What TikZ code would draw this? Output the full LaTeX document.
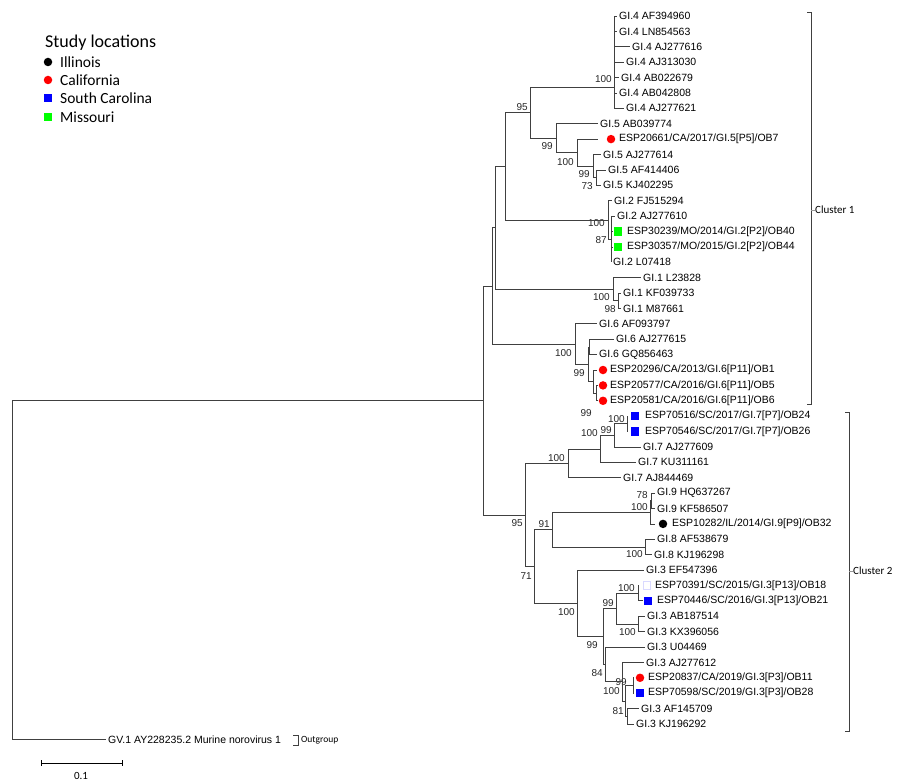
\documentclass[tikz,border=0pt]{standalone}
\usepackage{fontspec}
\setmainfont{Liberation Sans}
\newfontfamily\calfont{Carlito}
\tikzset{
  treeline/.style={line width=0.75pt, black!75},
  taxon/.style={anchor=west, inner xsep=2pt, inner ysep=0pt, font=\fontsize{10.5}{12}\selectfont},
  bootval/.style={anchor=east, inner sep=0pt, font=\fontsize{10}{12}\selectfont, black!85},
  dotmark/.style={circle, fill=#1, minimum size=8.5pt, inner sep=0pt},
  sqmark/.style={rectangle, fill=#1, minimum size=8.5pt, inner sep=0pt},
  legtext/.style={anchor=west, inner sep=0pt, font=\calfont\fontsize{15.5}{17}\selectfont},
  cltext/.style={anchor=west, inner sep=0pt, font=\calfont\fontsize{11}{12}\selectfont},
}
\begin{document}
\begin{tikzpicture}[x=1pt, y=-1pt]
\useasboundingbox (0,0) rectangle (900,784);

%Legend
\node[anchor=west, inner sep=0pt, font=\calfont\fontsize{18}{20}\selectfont] (legtitle) at (45,43) {Study locations};
\node[dotmark=black] (kIL) at (48,62) {};
\node[legtext] (tIL) at (60,62) {Illinois};
\node[dotmark=red] (kCA) at (48,80) {};
\node[legtext] (tCA) at (60,80) {California};
\node[sqmark=blue] (kSC) at (48,98) {};
\node[legtext] (tSC) at (60,98) {South Carolina};
\node[sqmark=green] (kMO) at (48,117) {};
\node[legtext] (tMO) at (60,117) {Missouri};

%Internal nodes
\coordinate (R)    at (12,569.9);
\coordinate (nD)   at (483,400.4);
\coordinate (nC)   at (492,285.9);
\coordinate (nB)   at (495,227.7);
\coordinate (nA)   at (505,166.3);
\coordinate (n95)  at (530,112.6);
\coordinate (n4)   at (614,87);
\coordinate (n5)   at (556,138.1);
\coordinate (n5a)  at (577,152.6);
\coordinate (n5b)  at (593,166);
\coordinate (n5c)  at (596,177.6);
\coordinate (g2)   at (608,220);
\coordinate (g2a)  at (611,239.2);
\coordinate (g1)   at (613,289.2);
\coordinate (g1a)  at (618,300.7);
\coordinate (g6)   at (575,344);
\coordinate (g6a)  at (588,364.3);
\coordinate (g6x)  at (589,346.9);
\coordinate (g6c)  at (593,381.6);
\coordinate (g6d)  at (596,393.1);
\coordinate (nC2)  at (525,514.9);
\coordinate (g7)   at (568,463.3);
\coordinate (g7a)  at (600,448.9);
\coordinate (g7b)  at (614,435.4);
\coordinate (g7c)  at (627,423.8);
\coordinate (n71)  at (534,566.5);
\coordinate (n91)  at (552,529.7);
\coordinate (g9)   at (650,512.4);
\coordinate (g9a)  at (651,500.8);
\coordinate (g8)   at (645,547);
\coordinate (n100c) at (577,603.3);
\coordinate (n99g) at (603,636.5);
\coordinate (n99f) at (616,608.5);
\coordinate (n100d) at (638,593.1);
\coordinate (g3ab) at (638,623.9);
\coordinate (n84)  at (605,664.4);
\coordinate (n100e) at (622,681.7);
\coordinate (nX)   at (625,700.9);
\coordinate (n99i) at (633,685.5);
\coordinate (n81)  at (627,716.3);

%Taxa, cluster 1
\node[taxon] (l0)  at (617,16)    {GI.4 AF394960};
\node[taxon] (l1)  at (617,31.4)  {GI.4 LN854563};
\node[taxon] (l2)  at (630,46.8)  {GI.4 AJ277616};
\node[taxon] (l3)  at (624,62.2)  {GI.4 AJ313030};
\node[taxon] (l4)  at (619,77.6)  {GI.4 AB022679};
\node[taxon] (l5)  at (617,93)    {GI.4 AB042808};
\node[taxon] (l6)  at (624,108.3) {GI.4 AJ277621};
\node[taxon] (l7)  at (598,123.7) {GI.5 AB039774};
\coordinate (t8) at (598,139.1);
\node[dotmark=red] (m8) at (611,139.1) {};
\node[taxon] (l8)  at (617,139.1) {ESP20661/CA/2017/GI.5[P5]/OB7};
\node[taxon] (l9)  at (601,154.5) {GI.5 AJ277614};
\node[taxon] (l10) at (606,169.9) {GI.5 AF414406};
\node[taxon] (l11) at (601,185.3) {GI.5 KJ402295};
\node[taxon] (l12) at (612,200.7) {GI.2 FJ515294};
\node[taxon] (l13) at (615,216.1) {GI.2 AJ277610};
\coordinate (t14) at (613,231.5);
\node[sqmark=green] (m14) at (618,231.5) {};
\node[taxon] (l14) at (625,231.5) {ESP30239/MO/2014/GI.2[P2]/OB40};
\coordinate (t15) at (613,246.9);
\node[sqmark=green] (m15) at (618,246.9) {};
\node[taxon] (l15) at (625,246.9) {ESP30357/MO/2015/GI.2[P2]/OB44};
\node[taxon] (l16) at (611,262.2) {GI.2 L07418};
\node[taxon] (l17) at (641,277.6) {GI.1 L23828};
\node[taxon] (l18) at (621,293)   {GI.1 KF039733};
\node[taxon] (l19) at (621,308.4) {GI.1 M87661};
\node[taxon] (l20) at (597,323.8) {GI.6 AF093797};
\node[taxon] (l21) at (614,339.2) {GI.6 AJ277615};
\node[taxon] (l22) at (597,354.6) {GI.6 GQ856463};
\coordinate (t23) at (597,370);
\node[dotmark=red] (m23) at (603,370) {};
\node[taxon] (l23) at (608,370)   {ESP20296/CA/2013/GI.6[P11]/OB1};
\coordinate (t24) at (598,385.4);
\node[dotmark=red] (m24) at (603,385.4) {};
\node[taxon] (l24) at (608,385.4) {ESP20577/CA/2016/GI.6[P11]/OB5};
\coordinate (t25) at (598,400.8);
\node[dotmark=red] (m25) at (603,400.8) {};
\node[taxon] (l25) at (608,400.8) {ESP20581/CA/2016/GI.6[P11]/OB6};

%Taxa, cluster 2
\coordinate (t26) at (627,416.1);
\node[sqmark=blue] (m26) at (635,416.1) {};
\node[taxon] (l26) at (643,416.1) {ESP70516/SC/2017/GI.7[P7]/OB24};
\coordinate (t27) at (627,431.5);
\node[sqmark=blue] (m27) at (635,431.5) {};
\node[taxon] (l27) at (643,431.5) {ESP70546/SC/2017/GI.7[P7]/OB26};
\node[taxon] (l28) at (641,446.9) {GI.7 AJ277609};
\node[taxon] (l29) at (636,462.3) {GI.7 KU311161};
\node[taxon] (l30) at (621,477.7) {GI.7 AJ844469};
\node[taxon] (l31) at (655,493.1) {GI.9 HQ637267};
\node[taxon] (l32) at (655,508.5) {GI.9 KF586507};
\coordinate (t33) at (655,523.9);
\node[dotmark=black] (m33) at (663,523.9) {};
\node[taxon] (l33) at (670,523.9) {ESP10282/IL/2014/GI.9[P9]/OB32};
\node[taxon] (l34) at (655,539.3) {GI.8 AF538679};
\node[taxon] (l35) at (652,554.7) {GI.8 KJ196298};
\node[taxon] (l36) at (644,570)   {GI.3 EF547396};
\coordinate (t37) at (638,585.4);
\node[sqmark=white, draw=blue!15, line width=0.6pt, minimum size=7.5pt] (m37) at (647,585.4) {};
\node[taxon] (l37) at (653,585.4) {ESP70391/SC/2015/GI.3[P13]/OB18};
\coordinate (t38) at (643,600.8);
\node[sqmark=blue] (m38) at (648,600.8) {};
\node[taxon] (l38) at (655,600.8) {ESP70446/SC/2016/GI.3[P13]/OB21};
\node[taxon] (l39) at (645,616.2) {GI.3 AB187514};
\node[taxon] (l40) at (645,631.6) {GI.3 KX396056};
\node[taxon] (l41) at (645,647)   {GI.3 U04469};
\node[taxon] (l42) at (644,662.4) {GI.3 AJ277612};
\coordinate (t43) at (634,677.8);
\node[dotmark=red] (m43) at (640,677.8) {};
\node[taxon] (l43) at (646,677.8) {ESP20837/CA/2019/GI.3[P3]/OB11};
\coordinate (t44) at (634,693.2);
\node[sqmark=blue] (m44) at (640,693.2) {};
\node[taxon] (l44) at (646,693.2) {ESP70598/SC/2019/GI.3[P3]/OB28};
\node[taxon] (l45) at (639,708.6) {GI.3 AF145709};
\node[taxon] (l46) at (634,724)   {GI.3 KJ196292};
\node[taxon] (l47) at (106,739.4) {GV.1 AY228235.2 Murine norovirus 1};

%Bootstrap values
\node[bootval] (b95a)  at (528,107) {95};
\node[bootval] (b100a) at (612,79)  {100};
\node[bootval] (b99a)  at (553,146) {99};
\node[bootval] (b100b) at (574,162) {100};
\node[bootval] (b99b)  at (590,174) {99};
\node[bootval] (b73)   at (593,186) {73};
\node[bootval] (b100c) at (605,223) {100};
\node[bootval] (b87)   at (607,240) {87};
\node[bootval] (b100d) at (610,297) {100};
\node[bootval] (b98)   at (616,309) {98};
\node[bootval] (b100e) at (572,353) {100};
\node[bootval] (b99c)  at (585,373) {99};
\node[bootval] (b99d)  at (592,413) {99};
\node[bootval] (b100f) at (625,419) {100};
\node[bootval] (b99e)  at (612,430) {99};
\node[bootval] (b100g) at (598,433) {100};
\node[bootval] (b100h) at (565,458) {100};
\node[bootval] (b95b)  at (523,523) {95};
\node[bootval] (b91)   at (550,524) {91};
\node[bootval] (b78)   at (648,495) {78};
\node[bootval] (b100i) at (648,507) {100};
\node[bootval] (b100j) at (643,554) {100};
\node[bootval] (b71)   at (532,576) {71};
\node[bootval] (b100k) at (635,588) {100};
\node[bootval] (b99f)  at (614,603) {99};
\node[bootval] (b100l) at (575,612) {100};
\node[bootval] (b100m) at (636,632) {100};
\node[bootval] (b99g)  at (598,645) {99};
\node[bootval] (b84)   at (603,673) {84};
\node[bootval] (b99h)  at (627,682) {99};
\node[bootval] (b100n) at (620,691) {100};
\node[bootval] (b81)   at (624,711) {81};

%Branches
\begin{scope}[treeline]
\draw (R) |- (nD);  \draw (R) |- (l47);
\draw (nD) |- (nC); \draw (nD) |- (nC2);
\draw (nC) |- (nB); \draw (nC) |- (g6);
\draw (nB) |- (nA); \draw (nB) |- (g1);
\draw (nA) |- (n95); \draw (nA) |- (g2);
\draw (n95) |- (n4); \draw (n95) |- (n5);
\draw (n4) |- (l0); \draw (n4) |- (l1); \draw (n4) |- (l2); \draw (n4) |- (l3);
\draw (n4) |- (l4); \draw (n4) |- (l5); \draw (n4) |- (l6);
\draw (n5) |- (l7); \draw (n5) |- (n5a);
\draw (n5a) |- (t8); \draw (n5a) |- (n5b);
\draw (n5b) |- (l9); \draw (n5b) |- (n5c);
\draw (n5c) |- (l10); \draw (n5c) |- (l11);
\draw (g2) |- (l12); \draw (g2) |- (g2a);
\draw (g2a) |- (l13); \draw (g2a) |- (t14); \draw (g2a) |- (t15); \draw (g2a) |- (l16);
\draw (g1) |- (l17); \draw (g1) |- (g1a);
\draw (g1a) |- (l18); \draw (g1a) |- (l19);
\draw (g6) |- (l20); \draw (g6) |- (g6a);
\draw (g6a) |- (g6x); \draw (g6a) |- (g6c);
\draw (g6x) |- (l21); \draw (g6x) |- (l22);
\draw (g6c) |- (t23); \draw (g6c) |- (g6d);
\draw (g6d) |- (t24); \draw (g6d) |- (t25);
\draw (nC2) |- (g7); \draw (nC2) |- (n71);
\draw (g7) |- (g7a); \draw (g7) |- (l30);
\draw (g7a) |- (g7b); \draw (g7a) |- (l29);
\draw (g7b) |- (g7c); \draw (g7b) |- (l28);
\draw (g7c) |- (t26); \draw (g7c) |- (t27);
\draw (n71) |- (n91); \draw (n71) |- (n100c);
\draw (n91) |- (g9); \draw (n91) |- (g8);
\draw (g9) |- (g9a); \draw (g9) |- (t33);
\draw (g9a) |- (l31); \draw (g9a) |- (l32);
\draw (g8) |- (l34); \draw (g8) |- (l35);
\draw (n100c) |- (l36); \draw (n100c) |- (n99g);
\draw (n99g) |- (n99f); \draw (n99g) |- (n84);
\draw (n99f) |- (n100d); \draw (n99f) |- (g3ab);
\draw (n100d) |- (t37); \draw (n100d) |- (t38);
\draw (g3ab) |- (l39); \draw (g3ab) |- (l40);
\draw (n84) |- (l41); \draw (n84) |- (n100e);
\draw (n100e) |- (l42); \draw (n100e) |- (nX);
\draw (nX) |- (n99i); \draw (nX) |- (n81);
\draw (n99i) |- (t43); \draw (n99i) |- (t44);
\draw (n81) |- (l45); \draw (n81) |- (l46);
\end{scope}

%Cluster brackets
\coordinate (c1top) at (807,12.5);
\coordinate (c1bot) at (807,404);
\draw[treeline] (c1top) -- ++(4,0) |- (c1bot);
\node[cltext] (cl1) at (815,210) {Cluster 1};
\draw[treeline, black!40] (811,210) -- (cl1.west);
\coordinate (c2top) at (845,412);
\coordinate (c2bot) at (845,731);
\draw[treeline] (c2top) -- ++(4,0) |- (c2bot);
\node[cltext] (cl2) at (853,571) {Cluster 2};
\draw[treeline, black!40] (849,571) -- (cl2.west);
\coordinate (ogtop) at (293,735);
\coordinate (ogbot) at (293,745);
\draw[treeline] (ogtop) -- ++(5,0) |- (ogbot);
\node[anchor=west, inner sep=0pt, font=\calfont\fontsize{9.5}{11}\selectfont] (og) at (301,740) {Outgroup};

%Scale bar
\coordinate (sb0) at (41,763);
\coordinate (sb1) at (122,763);
\draw[treeline, black] (sb0) -- (sb1);
\draw[treeline, black] (41,760) -- (41,766) (122,760) -- (122,766);
\node[font=\calfont\fontsize{11}{12}\selectfont, inner sep=0pt] (sbl) at (81,776) {0.1};
\end{tikzpicture}
\end{document}
